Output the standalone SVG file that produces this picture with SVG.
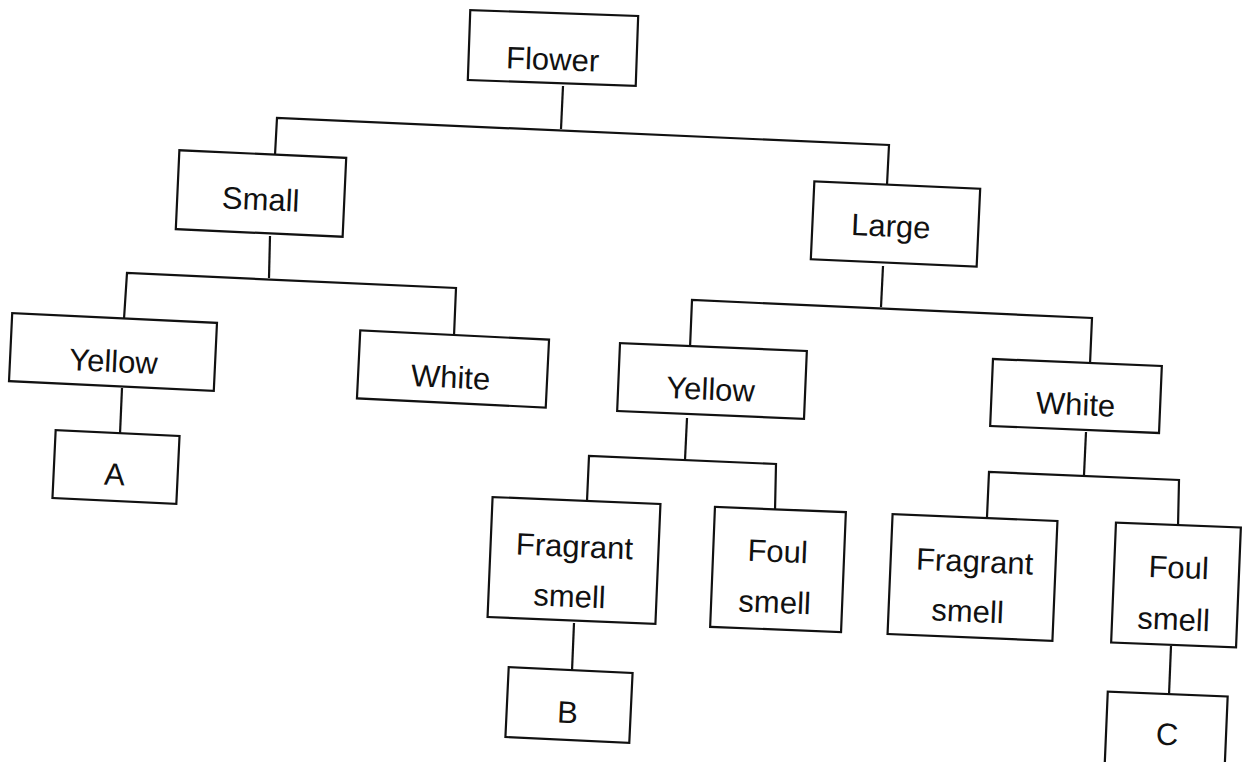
<svg xmlns="http://www.w3.org/2000/svg" width="1244" height="762" viewBox="0 0 1244 762">
<style>
.box{fill:#fff;stroke:#111;stroke-width:2.2}
.conn{fill:none;stroke:#111;stroke-width:2.2}
text{font-family:"Liberation Sans",Arial,sans-serif;font-size:31px;text-anchor:middle;fill:#111}
</style>
<rect width="1244" height="762" fill="#fff"/>
<g id="connectors">
<polyline class="conn" points="563,86 561,129"/>
<polyline class="conn" points="275,155 277,118 889,145 887,185"/>
<polyline class="conn" points="270,236 269,278"/>
<polyline class="conn" points="124,319 127,273 456,288 454,336"/>
<polyline class="conn" points="122,388 120,434"/>
<polyline class="conn" points="883,266 881,307"/>
<polyline class="conn" points="690,348 692,300 1092,318 1090,364"/>
<polyline class="conn" points="687,418 685,460"/>
<polyline class="conn" points="587,501 589,456 776,464 775,511"/>
<polyline class="conn" points="574,623 572,671"/>
<polyline class="conn" points="1086,432 1084,475"/>
<polyline class="conn" points="987,517 989,472 1179,480 1178,527"/>
<polyline class="conn" points="1171,646 1169,695"/>
</g>
<g id="flower" transform="rotate(2 553 48)"><rect class="box" x="469" y="13" width="168" height="70"/><text x="553" y="70">Flower</text></g>
<g id="small" transform="rotate(2.6 261 193.5)"><rect class="box" x="177.5" y="154" width="167" height="79"/><text x="261" y="210">Small</text></g>
<g id="large" transform="rotate(2.6 895.5 224)"><rect class="box" x="812.5" y="185" width="166" height="78"/><text x="891" y="237">Large</text></g>
<g id="yellow-small" transform="rotate(2.7 113 352)"><rect class="box" x="10.5" y="318" width="205" height="68"/><text x="114" y="372">Yellow</text></g>
<g id="white-small" transform="rotate(2.8 453 369)"><rect class="box" x="358.5" y="335" width="189" height="68"/><text x="451" y="388">White</text></g>
<g id="a" transform="rotate(2.7 116 467)"><rect class="box" x="54" y="433" width="124" height="68"/><text x="115" y="485">A</text></g>
<g id="yellow-large" transform="rotate(2.4 712 381)"><rect class="box" x="618.5" y="347" width="187" height="68"/><text x="711" y="400">Yellow</text></g>
<g id="white-large" transform="rotate(2.4 1076 396)"><rect class="box" x="991.5" y="362.5" width="169" height="67"/><text x="1076" y="415">White</text></g>
<g id="fragrant-yellow" transform="rotate(2.4 574 560.5)"><rect class="box" x="490" y="500.5" width="168" height="120"/><text x="574" y="557">Fragrant</text><text x="571" y="607">smell</text></g>
<g id="foul-yellow" transform="rotate(2.3 778 569.5)"><rect class="box" x="712.5" y="509.5" width="131" height="120"/><text x="777" y="562">Foul</text><text x="776" y="613">smell</text></g>
<g id="b" transform="rotate(2.7 569 705)"><rect class="box" x="507" y="670" width="124" height="70"/><text x="568" y="723">B</text></g>
<g id="fragrant-white" transform="rotate(2.4 972.5 577.5)"><rect class="box" x="890" y="517.5" width="165" height="120"/><text x="974" y="572">Fragrant</text><text x="969" y="622">smell</text></g>
<g id="foul-white" transform="rotate(2.3 1176 585)"><rect class="box" x="1113.5" y="525" width="125" height="120"/><text x="1178" y="578">Foul</text><text x="1175" y="630">smell</text></g>
<g id="c" transform="rotate(2.4 1166 735)"><rect class="box" x="1106" y="694" width="120" height="82"/><text x="1167" y="745">C</text></g>
</svg>
